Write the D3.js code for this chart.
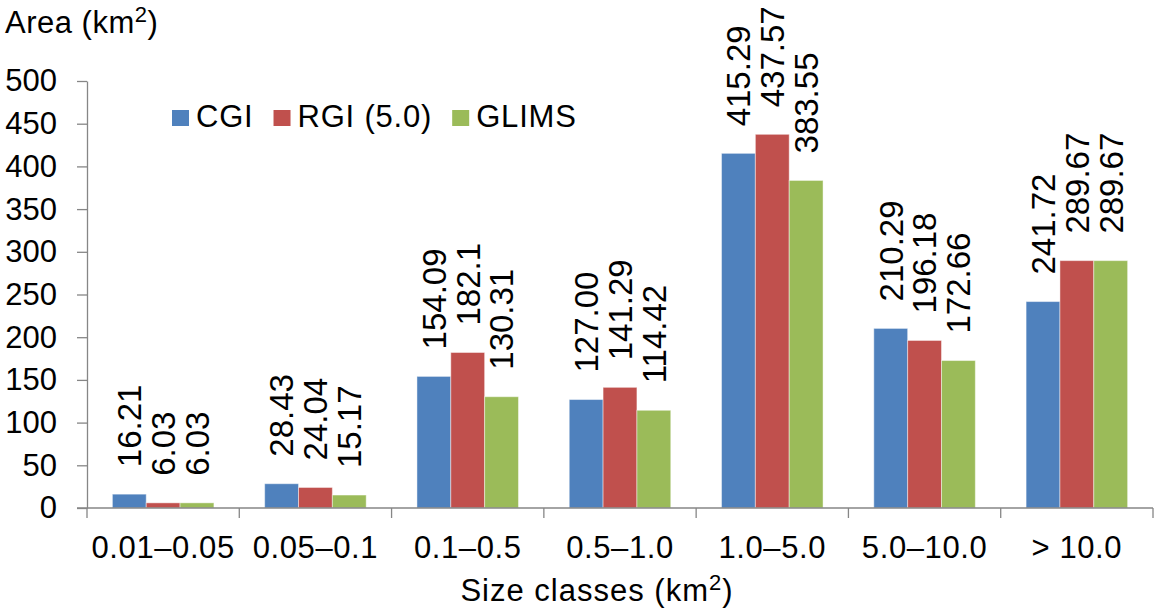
<!DOCTYPE html>
<html>
<head>
<meta charset="utf-8">
<script src="https://cdn.jsdelivr.net/npm/d3@7"></script>
<style>
  body { margin: 0; background: #fff; }
  text { font-family: "Liberation Sans", Arial, sans-serif; fill: #000; }
</style>
</head>
<body>
<script>
// data
let categories = ["0.01\u20130.05", "0.05\u20130.1", "0.1\u20130.5", "0.5\u20131.0", "1.0\u20135.0", "5.0\u201310.0", "> 10.0"];
let seriesNames = ["CGI", "RGI (5.0)", "GLIMS"];
let seriesColors = ["#4f81bd", "#c0504d", "#9bbb59"];
let cgiValues = [16.21, 28.43, 154.09, 127.00, 415.29, 210.29, 241.72];
let rgiValues = [6.03, 24.04, 182.1, 141.29, 437.57, 196.18, 289.67];
let glimsValues = [6.03, 15.17, 130.31, 114.42, 383.55, 172.66, 289.67];
let cgiLabels = ["16.21", "28.43", "154.09", "127.00", "415.29", "210.29", "241.72"];
let rgiLabels = ["6.03", "24.04", "182.1", "141.29", "437.57", "196.18", "289.67"];
let glimsLabels = ["6.03", "15.17", "130.31", "114.42", "383.55", "172.66", "289.67"];
let yTicks = [0, 50, 100, 150, 200, 250, 300, 350, 400, 450, 500];

let allValues = [cgiValues, rgiValues, glimsValues];
let allLabels = [cgiLabels, rgiLabels, glimsLabels];

let width = 1160, height = 616;
let axisColor = "#868686";

let svg = d3.select("body").append("svg").attr("width", width).attr("height", height);

let x0 = d3.scaleBand().domain(categories).range([87, 1153]).padding(0);
let step = x0.step();
let x1 = d3.scaleBand().domain(seriesNames).range([step / 6, step * 5 / 6]).padding(0);
let y = d3.scaleLinear().domain([0, 500]).range([508, 81]);

// rows for bars
let rows = [];
categories.forEach(function(c, i) {
    seriesNames.forEach(function(s, j) {
        rows.push({cat: c, series: s, value: allValues[j][i], label: allLabels[j][i], color: seriesColors[j]});
    });
});

// bars
svg.append("g").selectAll("rect").data(rows).enter().append("rect")
    .attr("x", function(d) { return x0(d.cat) + x1(d.series); })
    .attr("y", function(d) { return y(d.value); })
    .attr("width", x1.bandwidth())
    .attr("height", function(d) { return y(0) - y(d.value); })
    .attr("fill", function(d) { return d.color; })
    .attr("stroke", "#fff").attr("stroke-opacity", 0.45).attr("stroke-width", 1);

// y axis
let yAxis = svg.append("g").attr("transform", "translate(87,0)")
    .call(d3.axisLeft(y).tickValues(yTicks).tickSize(10).tickPadding(20).tickSizeOuter(0));
yAxis.select(".domain").attr("stroke", axisColor).attr("stroke-width", 1.3);
yAxis.selectAll(".tick line").attr("stroke", axisColor).attr("stroke-width", 1.3);
yAxis.selectAll(".tick text").attr("font-size", 31).attr("font-family", "Liberation Sans, Arial, sans-serif").attr("fill", "#000");

// x axis line and boundary ticks
let xg = svg.append("g");
xg.append("line").attr("x1", 77).attr("x2", 1153).attr("y1", y(0)).attr("y2", y(0))
    .attr("stroke", axisColor).attr("stroke-width", 1.3);
let bounds = categories.map(function(c) { return x0(c); }).concat([x0.range()[1]]);
xg.selectAll("line.tick").data(bounds).enter().append("line").attr("class", "tick")
    .attr("x1", function(d) { return d; }).attr("x2", function(d) { return d; })
    .attr("y1", y(0)).attr("y2", y(0) + 10)
    .attr("stroke", axisColor).attr("stroke-width", 1.3);
xg.selectAll("text").data(categories).enter().append("text")
    .attr("x", function(d) { return x0(d) + step / 2; })
    .attr("y", 558)
    .attr("text-anchor", "middle").attr("font-size", 31).attr("letter-spacing", 0.6)
    .text(function(d) { return d; });

// data labels
svg.append("g").selectAll("text").data(rows).enter().append("text")
    .attr("transform", function(d) {
        let cx = x0(d.cat) + x1(d.series) + x1.bandwidth() / 2;
        return "translate(" + cx + "," + (y(d.value) - 27) + ") rotate(-90)";
    })
    .attr("dy", "0.36em").attr("font-size", 33)
    .text(function(d) { return d.label; });

// axis titles
let yt = svg.append("text").attr("x", 5).attr("y", 33).attr("font-size", 31).attr("letter-spacing", 0.5);
yt.append("tspan").text("Area (km");
yt.append("tspan").attr("font-size", 22).attr("dy", -11).text("2");
yt.append("tspan").attr("dy", 11).text(")");

let xt = svg.append("text").attr("x", 597).attr("y", 601).attr("font-size", 31).attr("letter-spacing", 1)
    .attr("text-anchor", "middle");
xt.append("tspan").text("Size classes (km");
xt.append("tspan").attr("font-size", 22).attr("dy", -11).text("2");
xt.append("tspan").attr("dy", 11).text(")");

// legend
let legend = svg.append("g");
let lx = 172;
seriesNames.forEach(function(s, i) {
    legend.append("rect").attr("x", lx).attr("y", 110).attr("width", 17).attr("height", 16).attr("fill", seriesColors[i]);
    let t = legend.append("text").attr("x", lx + 24).attr("y", 127).attr("font-size", 31).attr("letter-spacing", 0.8).text(s);
    lx += 24 + t.node().getComputedTextLength() + 20;
});
</script>
</body>
</html>
